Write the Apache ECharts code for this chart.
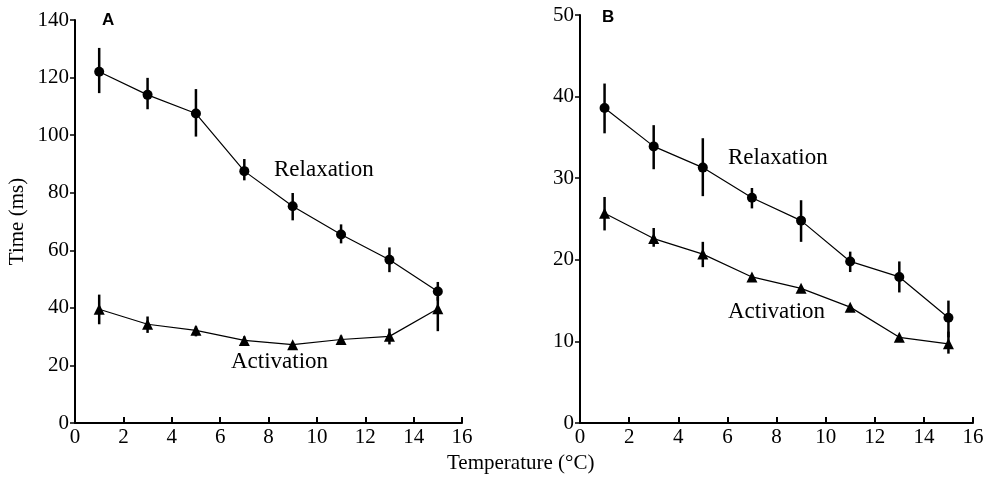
<!DOCTYPE html>
<html>
<head>
<meta charset="utf-8">
<script src="https://cdn.jsdelivr.net/npm/echarts@6/dist/echarts.min.js"></script>
<style>
  html, body { margin: 0; padding: 0; background: #fff; }
  #chart { width: 992px; height: 479px; }
</style>
</head>
<body>
<div id="chart"></div>
<script>
// temperatures (°C)
var temps = [1, 3, 5, 7, 9, 11, 13, 15];

// panel A
var relaxA = [122, 114, 107.5, 87.5, 75.3, 65.5, 56.7, 45.7];
var relaxALow = [114.6, 109, 99.5, 84.3, 70.4, 62.4, 52.4, 42.5];
var relaxAHigh = [130.3, 119.9, 116, 91.7, 79.9, 69, 61, 49];
var actA = [39.5, 34.3, 32.2, 28.7, 27.2, 29, 30.1, 39.7];
var actALow = [34.3, 31.3, 30.1, 27.3, 27.2, 27.5, 27.3, 31.9];
var actAHigh = [44.6, 37, 33.6, 30.1, 27.2, 30.4, 32.8, 43.8];

// panel B
var relaxB = [38.6, 33.9, 31.3, 27.6, 24.8, 19.8, 17.9, 12.9];
var relaxBLow = [35.5, 31.1, 27.8, 26.3, 22.2, 18.5, 16, 10.5];
var relaxBHigh = [41.6, 36.5, 34.9, 28.8, 27.3, 21, 19.8, 15];
var actB = [25.7, 22.6, 20.7, 17.9, 16.5, 14.2, 10.5, 9.7];
var actBLow = [23.6, 21.6, 19.1, 17.9, 16.5, 14.2, 10.5, 8.5];
var actBHigh = [27.7, 23.9, 22.2, 17.9, 16.5, 14.2, 10.5, 11.2];

var serif = '"Liberation Serif", "DejaVu Serif", serif';

function pairs(ys) {
  return temps.map(function (t, i) { return [t, ys[i]]; });
}

function errData(low, high) {
  return temps.map(function (t, i) { return [t, low[i], high[i]]; });
}

function errSeries(idx, low, high) {
  return {
    type: 'custom',
    xAxisIndex: idx,
    yAxisIndex: idx,
    data: errData(low, high),
    silent: true,
    z: 1,
    renderItem: function (params, api) {
      var lo = api.coord([api.value(0), api.value(1)]);
      var hi = api.coord([api.value(0), api.value(2)]);
      return {
        type: 'line',
        shape: { x1: lo[0], y1: lo[1], x2: hi[0], y2: hi[1] },
        style: { stroke: '#000', lineWidth: 2.5 }
      };
    }
  };
}

function lineSeries(idx, ys, symbol, size) {
  return {
    type: 'line',
    xAxisIndex: idx,
    yAxisIndex: idx,
    data: pairs(ys),
    symbol: symbol,
    symbolSize: size,
    showSymbol: true,
    itemStyle: { color: '#000' },
    lineStyle: { color: '#000', width: 1.2 },
    z: 2
  };
}

function xAxis(idx) {
  return {
    type: 'value',
    gridIndex: idx,
    min: 0,
    max: 16,
    interval: 2,
    axisLine: { onZero: false, lineStyle: { color: '#000', width: 2 } },
    axisTick: { inside: true, length: 6, lineStyle: { color: '#000', width: 2 } },
    axisLabel: { color: '#000', fontFamily: serif, fontSize: 21, margin: 4 },
    splitLine: { show: false }
  };
}

function yAxis(idx, max, interval, name) {
  return {
    type: 'value',
    gridIndex: idx,
    min: 0,
    max: max,
    interval: interval,
    name: name,
    nameLocation: 'middle',
    nameGap: 47,
    nameRotate: 90,
    nameTextStyle: { color: '#000', fontFamily: serif, fontSize: 21 },
    axisLine: { onZero: false, lineStyle: { color: '#000', width: 2 } },
    axisTick: { length: 5, lineStyle: { color: '#000', width: 1.5 } },
    axisLabel: { color: '#000', fontFamily: serif, fontSize: 21, margin: 6 },
    splitLine: { show: false }
  };
}

function label(text, x, y, size, bold) {
  return {
    type: 'text',
    left: x,
    top: y,
    style: {
      text: text,
      fill: '#000',
      font: (bold ? 'bold ' + size + 'px "Liberation Sans", sans-serif' : size + 'px ' + serif)
    }
  };
}

var chart = echarts.init(document.getElementById('chart'));
chart.setOption({
  animation: false,
  backgroundColor: '#fff',
  grid: [
    { left: 75, right: 530, top: 20, bottom: 56 },
    { left: 580, right: 19, top: 15, bottom: 56 }
  ],
  xAxis: [xAxis(0), xAxis(1)],
  yAxis: [yAxis(0, 140, 20, 'Time (ms)'), yAxis(1, 50, 10, '')],
  graphic: [
    label('A', 102, 12, 17, true),
    label('B', 602, 9, 17, true),
    label('Relaxation', 274, 158, 23, false),
    label('Activation', 231, 350, 23, false),
    label('Relaxation', 728, 146, 23, false),
    label('Activation', 728, 300, 23, false),
    label('Temperature (°C)', 447, 453, 21, false)
  ],
  series: [
    errSeries(0, relaxALow, relaxAHigh),
    errSeries(0, actALow, actAHigh),
    lineSeries(0, relaxA, 'circle', 10),
    lineSeries(0, actA, 'triangle', 11),
    errSeries(1, relaxBLow, relaxBHigh),
    errSeries(1, actBLow, actBHigh),
    lineSeries(1, relaxB, 'circle', 10),
    lineSeries(1, actB, 'triangle', 11)
  ]
});
</script>
</body>
</html>
